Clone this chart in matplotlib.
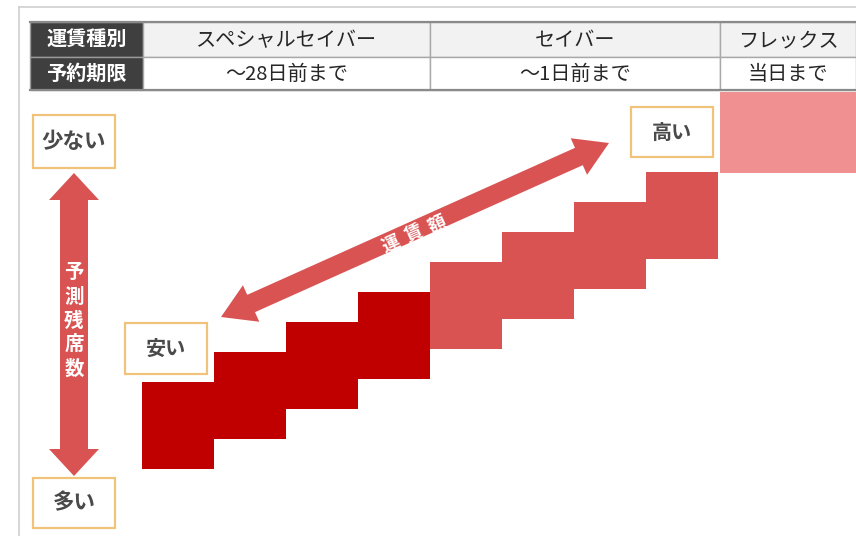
import numpy as np
import matplotlib.pyplot as plt
from matplotlib.patches import Rectangle, Polygon

plt.rcParams['font.family'] = ['Noto Sans CJK JP', 'DejaVu Sans']

# === table / chart content ===
row_heads = ['運賃種別', '予約期限']
fare_types = ['スペシャルセイバー', 'セイバー', 'フレックス']
deadlines = ['～28日前まで', '～1日前まで', '当日まで']
steps_per_fare = [4, 4, 1]          # price steps in each fare type
fare_colors = ['#c00000', '#d95353', '#f09090']

seat_label = '予測残席数'
seat_ends = ['少ない', '多い']
fare_label = '運賃額'
fare_ends = ['安い', '高い']

# === layout in pixels (y grows downward) ===
W, H = 856, 536
col_edges = [30, 143, 430, 720, W]
row_edges = [22, 57, 90]
step_x0, step_w = 142, 72
step_top0, step_rise, step_h = 382, 30, 87


def double_arrow(ax, p0, p1, shaft, head_w, head_l, color):
    p0, p1 = np.array(p0, float), np.array(p1, float)
    d = p1 - p0
    L = np.hypot(*d)
    u = d / L
    n = np.array([-u[1], u[0]])
    a = p0 + u * head_l
    b = p1 - u * head_l
    pts = [p0, a + n * head_w / 2, a + n * shaft / 2, b + n * shaft / 2,
           b + n * head_w / 2, p1, b - n * head_w / 2, b - n * shaft / 2,
           a - n * shaft / 2, a - n * head_w / 2]
    ax.add_patch(Polygon(pts, closed=True, fc=color, ec='none', zorder=3))


def label_box(ax, x0, y0, x1, y1, text, size=14.5):
    ax.add_patch(Rectangle((x0, y0), x1 - x0, y1 - y0, fc='white',
                           ec='#f0c27a', lw=1.6, zorder=4))
    ax.text((x0 + x1) / 2, (y0 + y1) / 2, text, ha='center', va='center',
            fontsize=size, color='#4a4a4a', fontweight='bold', zorder=5)


fig = plt.figure(figsize=(W / 100, H / 100), dpi=100)
ax = fig.add_axes([0, 0, 1, 1])
ax.set_xlim(0, W)
ax.set_ylim(H, 0)
ax.axis('off')

# outer frame
ax.plot([19, W], [7, 7], color='#cfcfcf', lw=1.2)
ax.plot([19, 19], [7, H], color='#cfcfcf', lw=1.2)

# === table ===
for r in range(2):
    y0, y1 = row_edges[r], row_edges[r + 1]
    ax.add_patch(Rectangle((col_edges[0], y0), col_edges[1] - col_edges[0], y1 - y0,
                           fc='#3f3f3f', ec='#9a9a9a', lw=1))
    ax.text((col_edges[0] + col_edges[1]) / 2, (y0 + y1) / 2, row_heads[r],
            ha='center', va='center', color='white', fontsize=14.5, fontweight='bold')
    texts = fare_types if r == 0 else deadlines
    for c, t in enumerate(texts):
        x0, x1 = col_edges[c + 1], col_edges[c + 2]
        ax.add_patch(Rectangle((x0, y0), x1 - x0, y1 - y0,
                               fc='#f2f2f2' if r == 0 else 'white', ec='#a8a8a8', lw=1))
        ax.text((x0 + x1) / 2, (y0 + y1) / 2 + 1, t, ha='center', va='center',
                color='#262626', fontsize=14.5)
ax.plot([col_edges[0], W], [row_edges[0], row_edges[0]], color='#8a8a8a', lw=1.6)
ax.plot([col_edges[0], W], [row_edges[-1], row_edges[-1]], color='#8a8a8a', lw=1.6)

# === fare steps ===
i = 0
for f, n in enumerate(steps_per_fare):
    for k in range(n):
        if f < 2:
            x0 = step_x0 + step_w * i
            top = step_top0 - step_rise * i
            ax.add_patch(Rectangle((x0, top), step_w, step_h,
                                   fc=fare_colors[f], ec='none', zorder=2))
        else:
            # last fare fills the rest of its column
            x0 = col_edges[f + 1]
            top = row_edges[-1] + 2
            ax.add_patch(Rectangle((x0, top), W - x0, 173 - top,
                                   fc=fare_colors[f], ec='none', zorder=2))
        i += 1

# === seat arrow (vertical) ===
double_arrow(ax, (74, 173), (74, 476), 28, 50, 27, '#d95353')
for j, ch in enumerate(seat_label):
    ax.text(74, 273 + 24 * j, ch, ha='center', va='center', color='white',
            fontsize=14, fontweight='bold', zorder=5)
label_box(ax, 33, 115, 115, 168, seat_ends[0], 15.5)
label_box(ax, 33, 478, 115, 528, seat_ends[1], 15.5)

# === fare arrow (diagonal) ===
p0, p1 = (221, 317), (609, 143)
double_arrow(ax, p0, p1, 19, 40, 33, '#d95353')
u = np.array([p1[0] - p0[0], p1[1] - p0[1]], float)
u /= np.hypot(*u)
ang = np.degrees(np.arctan2(-u[1], u[0]))
for j, ch in enumerate(fare_label):
    cx, cy = np.array([414, 234]) + u * 25 * (j - 1)
    ax.text(cx, cy, ch, rotation=ang, rotation_mode='anchor', ha='center',
            va='center', color='white', fontsize=13, fontweight='bold', zorder=5)
label_box(ax, 125, 323, 207, 374, fare_ends[0])
label_box(ax, 631, 107, 713, 157, fare_ends[1])

fig.savefig('out.png', dpi=100)
